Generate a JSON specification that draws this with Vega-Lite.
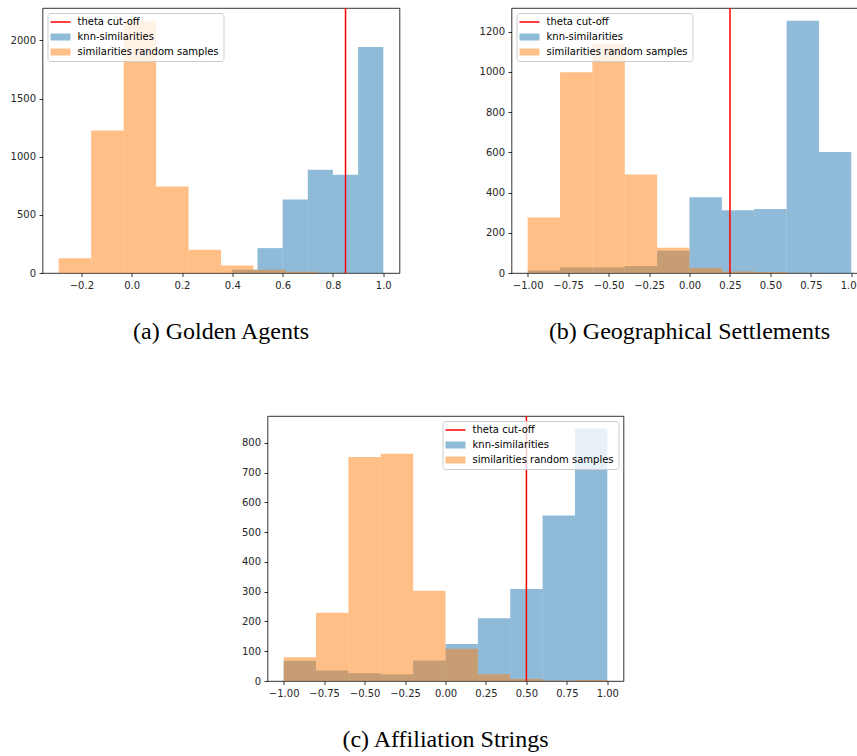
{
  "$schema": "https://vega.github.io/schema/vega-lite/v6.json",
  "background": "white",
  "padding": {"left": 9.5, "top": 6, "right": 0, "bottom": 0},
  "config": {
    "view": {"stroke": "#000000", "strokeWidth": 0.8},
    "axis": {"domain": false, "grid": false, "ticks": true, "tickSize": 3.5, "tickWidth": 0.8, "tickColor": "#000000", "labelPadding": 3.5, "labelFont": "DejaVu Sans", "labelFontSize": 10, "labelColor": "#262626", "labelFlush": false, "labelOverlap": false},
    "legend": {"padding": 4, "offset": 5, "fillColor": "rgba(255,255,255,0.8)", "strokeColor": "#cccccc", "cornerRadius": 3, "labelFont": "DejaVu Sans", "labelFontSize": 10, "labelColor": "#000000", "labelLimit": 400, "labelOffset": 12, "symbolOffset": 4, "symbolSize": 144, "rowPadding": 5},
    "title": {"font": "Liberation Serif", "fontSize": 24, "fontWeight": "normal", "color": "#000000", "orient": "bottom", "anchor": "middle", "offset": 30}
  },
  "datasets": {
    "bins": [
      {"panel": "a", "series": "knn-similarities", "x0": 0.4, "x1": 0.5, "count": 28},
      {"panel": "a", "series": "knn-similarities", "x0": 0.5, "x1": 0.6, "count": 214},
      {"panel": "a", "series": "knn-similarities", "x0": 0.6, "x1": 0.7, "count": 632},
      {"panel": "a", "series": "knn-similarities", "x0": 0.7, "x1": 0.8, "count": 889},
      {"panel": "a", "series": "knn-similarities", "x0": 0.8, "x1": 0.9, "count": 844},
      {"panel": "a", "series": "knn-similarities", "x0": 0.9, "x1": 1.0, "count": 1944},
      {"panel": "a", "series": "similarities random samples", "x0": -0.29, "x1": -0.161, "count": 127},
      {"panel": "a", "series": "similarities random samples", "x0": -0.161, "x1": -0.032, "count": 1226},
      {"panel": "a", "series": "similarities random samples", "x0": -0.032, "x1": 0.097, "count": 2170},
      {"panel": "a", "series": "similarities random samples", "x0": 0.097, "x1": 0.226, "count": 743},
      {"panel": "a", "series": "similarities random samples", "x0": 0.226, "x1": 0.355, "count": 200},
      {"panel": "a", "series": "similarities random samples", "x0": 0.355, "x1": 0.484, "count": 65},
      {"panel": "a", "series": "similarities random samples", "x0": 0.484, "x1": 0.613, "count": 28},
      {"panel": "a", "series": "similarities random samples", "x0": 0.613, "x1": 0.742, "count": 10},
      {"panel": "a", "series": "similarities random samples", "x0": 0.742, "x1": 0.871, "count": 2},
      {"panel": "a", "series": "similarities random samples", "x0": 0.871, "x1": 1.0, "count": 1},
      {"panel": "b", "series": "knn-similarities", "x0": -1.0, "x1": -0.8, "count": 12},
      {"panel": "b", "series": "knn-similarities", "x0": -0.8, "x1": -0.6, "count": 27},
      {"panel": "b", "series": "knn-similarities", "x0": -0.6, "x1": -0.4, "count": 27},
      {"panel": "b", "series": "knn-similarities", "x0": -0.4, "x1": -0.2, "count": 35},
      {"panel": "b", "series": "knn-similarities", "x0": -0.2, "x1": 0.0, "count": 110},
      {"panel": "b", "series": "knn-similarities", "x0": 0.0, "x1": 0.2, "count": 376},
      {"panel": "b", "series": "knn-similarities", "x0": 0.2, "x1": 0.4, "count": 312},
      {"panel": "b", "series": "knn-similarities", "x0": 0.4, "x1": 0.6, "count": 318},
      {"panel": "b", "series": "knn-similarities", "x0": 0.6, "x1": 0.8, "count": 1254},
      {"panel": "b", "series": "knn-similarities", "x0": 0.8, "x1": 1.0, "count": 601},
      {"panel": "b", "series": "similarities random samples", "x0": -1.0, "x1": -0.8, "count": 276},
      {"panel": "b", "series": "similarities random samples", "x0": -0.8, "x1": -0.6, "count": 998},
      {"panel": "b", "series": "similarities random samples", "x0": -0.6, "x1": -0.4, "count": 1140},
      {"panel": "b", "series": "similarities random samples", "x0": -0.4, "x1": -0.2, "count": 490},
      {"panel": "b", "series": "similarities random samples", "x0": -0.2, "x1": 0.0, "count": 126},
      {"panel": "b", "series": "similarities random samples", "x0": 0.0, "x1": 0.2, "count": 25},
      {"panel": "b", "series": "similarities random samples", "x0": 0.2, "x1": 0.4, "count": 7},
      {"panel": "b", "series": "similarities random samples", "x0": 0.4, "x1": 0.6, "count": 5},
      {"panel": "b", "series": "similarities random samples", "x0": 0.6, "x1": 0.8, "count": 1},
      {"panel": "c", "series": "knn-similarities", "x0": -1.0, "x1": -0.8, "count": 68},
      {"panel": "c", "series": "knn-similarities", "x0": -0.8, "x1": -0.6, "count": 35},
      {"panel": "c", "series": "knn-similarities", "x0": -0.6, "x1": -0.4, "count": 26},
      {"panel": "c", "series": "knn-similarities", "x0": -0.4, "x1": -0.2, "count": 23},
      {"panel": "c", "series": "knn-similarities", "x0": -0.2, "x1": 0.0, "count": 69},
      {"panel": "c", "series": "knn-similarities", "x0": 0.0, "x1": 0.2, "count": 124},
      {"panel": "c", "series": "knn-similarities", "x0": 0.2, "x1": 0.4, "count": 211},
      {"panel": "c", "series": "knn-similarities", "x0": 0.4, "x1": 0.6, "count": 309},
      {"panel": "c", "series": "knn-similarities", "x0": 0.6, "x1": 0.8, "count": 556},
      {"panel": "c", "series": "knn-similarities", "x0": 0.8, "x1": 1.0, "count": 848},
      {"panel": "c", "series": "similarities random samples", "x0": -1.0, "x1": -0.8, "count": 80},
      {"panel": "c", "series": "similarities random samples", "x0": -0.8, "x1": -0.6, "count": 229},
      {"panel": "c", "series": "similarities random samples", "x0": -0.6, "x1": -0.4, "count": 752},
      {"panel": "c", "series": "similarities random samples", "x0": -0.4, "x1": -0.2, "count": 763},
      {"panel": "c", "series": "similarities random samples", "x0": -0.2, "x1": 0.0, "count": 303},
      {"panel": "c", "series": "similarities random samples", "x0": 0.0, "x1": 0.2, "count": 108},
      {"panel": "c", "series": "similarities random samples", "x0": 0.2, "x1": 0.4, "count": 23},
      {"panel": "c", "series": "similarities random samples", "x0": 0.4, "x1": 0.6, "count": 7},
      {"panel": "c", "series": "similarities random samples", "x0": 0.6, "x1": 0.8, "count": 2},
      {"panel": "c", "series": "similarities random samples", "x0": 0.8, "x1": 1.0, "count": 3}
    ],
    "cutoffs": [
      {"panel": "a", "theta": 0.85},
      {"panel": "b", "theta": 0.25},
      {"panel": "c", "theta": 0.5}
    ],
    "empty": []
  },
  "vconcat": [
    {
      "hconcat": [
        {
          "width": 357, "height": 265,
          "title": {"text": "(a) Golden Agents"},
          "layer": [
            {
              "data": {"name": "bins"},
              "transform": [{"filter": "datum.panel === 'a'"}],
              "mark": {"type": "rect", "fillOpacity": 0.5},
              "encoding": {
                "x": {"field": "x0", "type": "quantitative", "scale": {"domain": [-0.3545, 1.0645], "nice": false, "zero": false}, "axis": {"title": null, "values": [-0.2, 0, 0.2, 0.4, 0.6, 0.8, 1.0], "format": ".1f"}},
                "x2": {"field": "x1"},
                "y": {"field": "count", "type": "quantitative", "scale": {"domain": [0, 2279], "nice": false}, "axis": {"title": null, "values": [0, 500, 1000, 1500, 2000], "format": "d"}},
                "y2": {"datum": 0},
                "color": {"field": "series", "type": "nominal", "scale": {"domain": ["theta cut-off", "knn-similarities", "similarities random samples"], "range": ["#ff0000", "#1f77b4", "#ff7f0e"]},
                  "legend": {"title": null, "orient": "top-left",
                    "encode": {"symbols": {"update": {
                      "shape": {"signal": "datum.value === 'theta cut-off' ? 'M-1.667,0H1.667' : 'M-1.667,-0.583H1.667V0.583H-1.667Z'"},
                      "fill": {"signal": "datum.value === 'theta cut-off' ? 'transparent' : (datum.value === 'knn-similarities' ? '#1f77b4' : '#ff7f0e')"},
                      "stroke": {"signal": "datum.value === 'theta cut-off' ? '#ff0000' : 'transparent'"},
                      "strokeWidth": {"signal": "datum.value === 'theta cut-off' ? 1.5 : 0"},
                      "fillOpacity": {"value": 0.5}, "opacity": {"value": 1}}}}}}
              }
            },
            {
              "data": {"name": "cutoffs"},
              "transform": [{"filter": "datum.panel === 'a'"}],
              "mark": {"type": "rule", "strokeWidth": 1.5},
              "encoding": {"x": {"field": "theta", "type": "quantitative"}, "color": {"datum": "theta cut-off"}}
            }
          ]
        },
        {
          "width": 356, "height": 265,
          "title": {"text": "(b) Geographical Settlements"},
          "layer": [
            {
              "data": {"name": "bins"},
              "transform": [{"filter": "datum.panel === 'b'"}],
              "mark": {"type": "rect", "fillOpacity": 0.5},
              "encoding": {
                "x": {"field": "x0", "type": "quantitative", "scale": {"domain": [-1.1, 1.1], "nice": false, "zero": false}, "axis": {"title": null, "values": [-1, -0.75, -0.5, -0.25, 0, 0.25, 0.5, 0.75, 1], "format": ".2f"}},
                "x2": {"field": "x1"},
                "y": {"field": "count", "type": "quantitative", "scale": {"domain": [0, 1317], "nice": false}, "axis": {"title": null, "values": [0, 200, 400, 600, 800, 1000, 1200], "format": "d"}},
                "y2": {"datum": 0},
                "color": {"field": "series", "type": "nominal", "scale": {"domain": ["theta cut-off", "knn-similarities", "similarities random samples"], "range": ["#ff0000", "#1f77b4", "#ff7f0e"]},
                  "legend": {"title": null, "orient": "top-left",
                    "encode": {"symbols": {"update": {
                      "shape": {"signal": "datum.value === 'theta cut-off' ? 'M-1.667,0H1.667' : 'M-1.667,-0.583H1.667V0.583H-1.667Z'"},
                      "fill": {"signal": "datum.value === 'theta cut-off' ? 'transparent' : (datum.value === 'knn-similarities' ? '#1f77b4' : '#ff7f0e')"},
                      "stroke": {"signal": "datum.value === 'theta cut-off' ? '#ff0000' : 'transparent'"},
                      "strokeWidth": {"signal": "datum.value === 'theta cut-off' ? 1.5 : 0"},
                      "fillOpacity": {"value": 0.5}, "opacity": {"value": 1}}}}}}
              }
            },
            {
              "data": {"name": "cutoffs"},
              "transform": [{"filter": "datum.panel === 'b'"}],
              "mark": {"type": "rule", "strokeWidth": 1.5},
              "encoding": {"x": {"field": "theta", "type": "quantitative"}, "color": {"datum": "theta cut-off"}}
            }
          ]
        }
      ],
      "spacing": 78,
      "resolve": {"scale": {"color": "independent", "x": "independent", "y": "independent"}, "legend": {"color": "independent"}}
    },
    {
      "hconcat": [
        {
          "width": 177.7, "height": 10,
          "data": {"name": "empty"},
          "mark": {"type": "point", "opacity": 0},
          "view": {"stroke": null, "fill": null}
        },
        {
          "width": 356, "height": 265,
          "title": {"text": "(c) Affiliation Strings"},
          "layer": [
            {
              "data": {"name": "bins"},
              "transform": [{"filter": "datum.panel === 'c'"}],
              "mark": {"type": "rect", "fillOpacity": 0.5},
              "encoding": {
                "x": {"field": "x0", "type": "quantitative", "scale": {"domain": [-1.1, 1.1], "nice": false, "zero": false}, "axis": {"title": null, "values": [-1, -0.75, -0.5, -0.25, 0, 0.25, 0.5, 0.75, 1], "format": ".2f"}},
                "x2": {"field": "x1"},
                "y": {"field": "count", "type": "quantitative", "scale": {"domain": [0, 890], "nice": false}, "axis": {"title": null, "values": [0, 100, 200, 300, 400, 500, 600, 700, 800], "format": "d"}},
                "y2": {"datum": 0},
                "color": {"field": "series", "type": "nominal", "scale": {"domain": ["theta cut-off", "knn-similarities", "similarities random samples"], "range": ["#ff0000", "#1f77b4", "#ff7f0e"]},
                  "legend": {"title": null, "orient": "top-right",
                    "encode": {"symbols": {"update": {
                      "shape": {"signal": "datum.value === 'theta cut-off' ? 'M-1.667,0H1.667' : 'M-1.667,-0.583H1.667V0.583H-1.667Z'"},
                      "fill": {"signal": "datum.value === 'theta cut-off' ? 'transparent' : (datum.value === 'knn-similarities' ? '#1f77b4' : '#ff7f0e')"},
                      "stroke": {"signal": "datum.value === 'theta cut-off' ? '#ff0000' : 'transparent'"},
                      "strokeWidth": {"signal": "datum.value === 'theta cut-off' ? 1.5 : 0"},
                      "fillOpacity": {"value": 0.5}, "opacity": {"value": 1}}}}}}
              }
            },
            {
              "data": {"name": "cutoffs"},
              "transform": [{"filter": "datum.panel === 'c'"}],
              "mark": {"type": "rule", "strokeWidth": 1.5},
              "encoding": {"x": {"field": "theta", "type": "quantitative"}, "color": {"datum": "theta cut-off"}}
            }
          ]
        }
      ],
      "spacing": 20,
      "resolve": {"scale": {"color": "independent", "x": "independent", "y": "independent"}, "legend": {"color": "independent"}}
    }
  ],
  "spacing": 69,
  "resolve": {"scale": {"color": "independent", "x": "independent", "y": "independent"}, "legend": {"color": "independent"}}
}
